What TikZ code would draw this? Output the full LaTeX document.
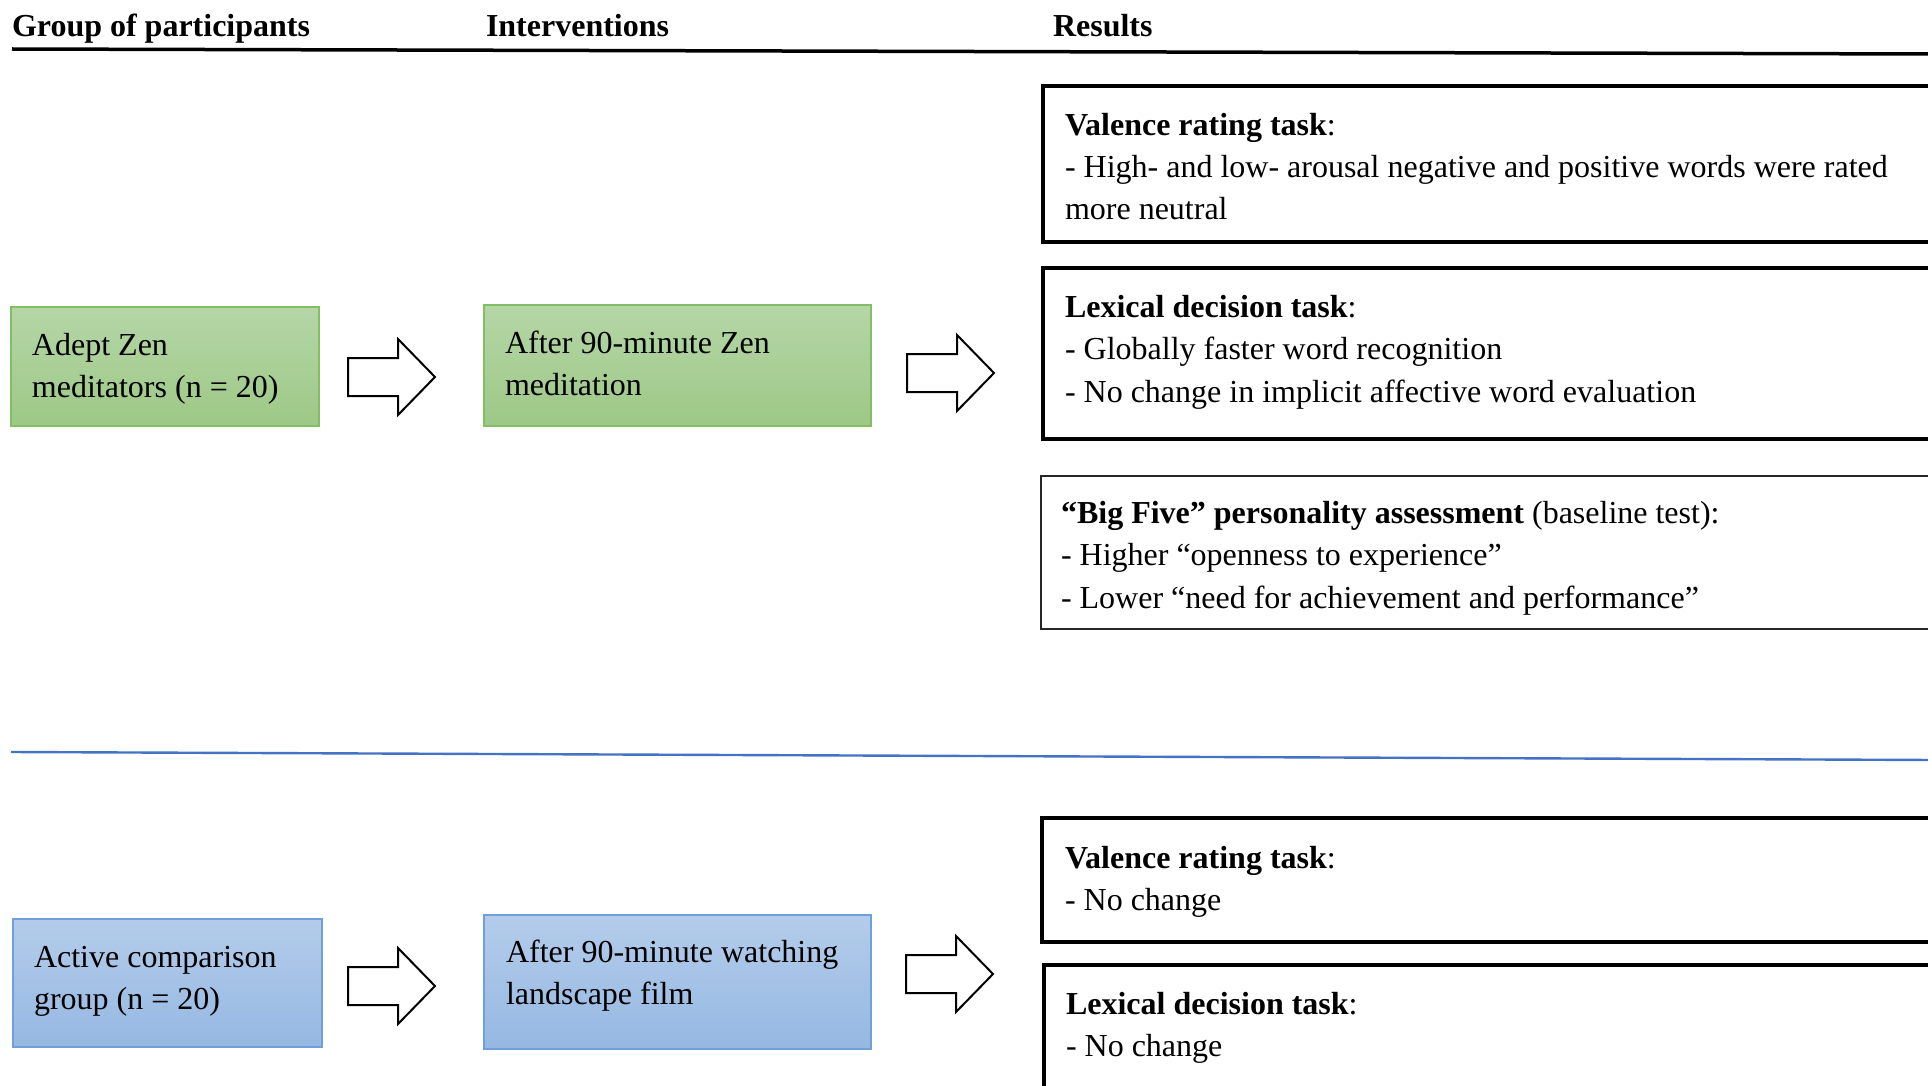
\documentclass[tikz,border=0pt]{standalone}
\usepackage{fontspec}
\setmainfont{Liberation Serif}
\definecolor{gtop}{HTML}{B5D6A7}
\definecolor{gbot}{HTML}{9DC886}
\definecolor{gedge}{HTML}{82BE63}
\definecolor{btop}{HTML}{B4CCEA}
\definecolor{bbot}{HTML}{95B8E2}
\definecolor{bedge}{HTML}{6FA0DC}
\definecolor{sepblue}{HTML}{4472C4}
\newcommand{\ml}[1]{\begin{tabular}[t]{@{}l@{}}#1\end{tabular}}
\begin{document}
\begin{tikzpicture}[x=0.5pt,y=-0.5pt,
  every node/.style={inner sep=0pt,outer sep=0pt},
  txt/.style={anchor=base west,font=\fontsize{16pt}{21.25pt}\selectfont},
  hdr/.style={anchor=base west,font=\fontsize{16pt}{21.25pt}\selectfont\bfseries},
  gbox/.style={anchor=north west,draw=gedge,line width=0.75pt,top color=gtop,bottom color=gbot},
  bbox/.style={anchor=north west,draw=bedge,line width=0.75pt,top color=btop,bottom color=bbot},
  thickbox/.style={anchor=north west,draw=black,line width=2pt,fill=white},
  thinbox/.style={anchor=north west,draw=black!85,line width=0.8pt,fill=white},
  barrow/.pic={\draw[line width=1pt,fill=white,line join=miter]
     (0,-19) -- (50,-19) -- (50,-38) -- (87,0) -- (50,38) -- (50,19) -- (0,19) -- cycle;}
]
\useasboundingbox (0,0) rectangle (1928,1086);
\clip (0,0) rectangle (1928,1086);

% headers
\node[hdr] (h1) at (12,37) {Group of participants};
\node[hdr] (h2) at (486,37) {Interventions};
\node[hdr] (h3) at (1053,37) {Results};
\draw[line width=1.75pt] (12,49) -- (1935,54);

% separator
\draw[sepblue,line width=1.2pt] (11,752) -- (1935,760);

% upper group
\node[gbox,minimum width=154pt,minimum height=59.5pt] (g1) at (11,307) {};
\node[txt] (g1t) at ([shift={(21,48)}]g1.north west) {\ml{Adept Zen\\meditators (n = 20)}};
\node[gbox,minimum width=193.5pt,minimum height=60.5pt] (g2) at (484,305) {};
\node[txt] (g2t) at ([shift={(21,48)}]g2.north west) {\ml{After 90-minute Zen\\meditation}};
\pic at (348,377) {barrow};
\pic at (907,373) {barrow};

\node[thickbox,minimum width=450pt,minimum height=78pt] (r1) at (1043,86) {};
\node[txt] (r1t) at ([shift={(22,49)}]r1.north west) {\ml{\textbf{Valence rating task}:\\- High- and low- arousal negative and positive words were rated\\more neutral}};
\node[thickbox,minimum width=450pt,minimum height=85.5pt] (r2) at (1043,268) {};
\node[txt] (r2t) at ([shift={(22,49)}]r2.north west) {\ml{\textbf{Lexical decision task}:\\- Globally faster word recognition\\- No change in implicit affective word evaluation}};
\node[thinbox,minimum width=451pt,minimum height=76.5pt] (r3) at (1041,476) {};
\node[txt] (r3t) at ([shift={(20,47)}]r3.north west) {\ml{\textbf{“Big Five” personality assessment} (baseline test):\\- Higher “openness to experience”\\- Lower “need for achievement and performance”}};

% lower group
\node[bbox,minimum width=154.5pt,minimum height=64pt] (b1) at (13,919) {};
\node[txt] (b1t) at ([shift={(21,48)}]b1.north west) {\ml{Active comparison\\group (n = 20)}};
\node[bbox,minimum width=193.5pt,minimum height=67pt] (b2) at (484,915) {};
\node[txt] (b2t) at ([shift={(22,47)}]b2.north west) {\ml{After 90-minute watching\\landscape film}};
\pic at (348,986) {barrow};
\pic at (906,974) {barrow};

\node[thickbox,minimum width=450pt,minimum height=62pt] (r4) at (1042,818) {};
\node[txt] (r4t) at ([shift={(23,50)}]r4.north west) {\ml{\textbf{Valence rating task}:\\- No change}};
\node[thickbox,minimum width=450pt,minimum height=70pt] (r5) at (1044,965) {};
\node[txt] (r5t) at ([shift={(22,49)}]r5.north west) {\ml{\textbf{Lexical decision task}:\\- No change}};
\end{tikzpicture}
\end{document}
